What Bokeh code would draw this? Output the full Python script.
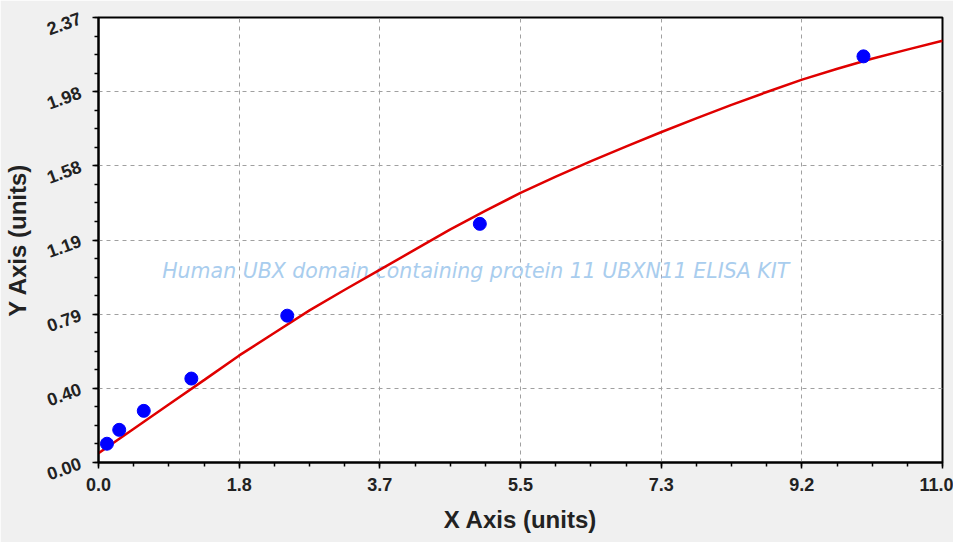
from bokeh.plotting import figure
from bokeh.models import FixedTicker
from bokeh.core.properties import value
from bokeh.embed import file_html
from bokeh.resources import INLINE

# ---- data ----
x_tick_labels = ["0.0", "1.8", "3.7", "5.5", "7.3", "9.2", "11.0"]
y_tick_labels = ["0.00", "0.40", "0.79", "1.19", "1.58", "1.98", "2.37"]
x_max = 11.0
y_max = 2.37

std_x = [0.11, 0.27, 0.59, 1.21, 2.46, 4.97, 9.97]
std_y = [0.10, 0.174, 0.275, 0.447, 0.782, 1.271, 2.163]

curve_x = [0.0, 0.46, 0.92, 1.38, 1.83, 2.29, 2.75, 3.21, 3.67, 4.13, 4.58,
           5.04, 5.5, 5.96, 6.42, 6.88, 7.33, 7.79, 8.25, 8.71, 9.17, 9.63,
           10.08, 10.54, 11.0]
curve_y = [0.05, 0.18, 0.31, 0.44, 0.569, 0.69, 0.81, 0.92, 1.027, 1.135, 1.24,
           1.34, 1.436, 1.522, 1.605, 1.684, 1.759, 1.833, 1.905, 1.973, 2.039,
           2.097, 2.15, 2.199, 2.246]

watermark = "Human UBX domain containing protein 11 UBXN11 ELISA KIT"

# ---- figure ----
BG = "#f0f0f0"
p = figure(width=953, height=542, output_backend="svg", toolbar_location=None,
           x_range=(0, x_max), y_range=(0, y_max),
           min_border_left=98, min_border_right=11, min_border_top=17,
           min_border_bottom=80)
p.background_fill_color = "white"
p.border_fill_color = BG
p.outline_line_color = "black"
p.outline_line_width = 2

n = len(x_tick_labels) - 1
x_ticks = [x_max * i / n for i in range(n + 1)]
y_ticks = [y_max * i / n for i in range(n + 1)]
x_minor = [x_max * i / (n * 4) for i in range(n * 4 + 1)]
y_minor = [y_max * i / (n * 4) for i in range(n * 4 + 1)]

p.xaxis.ticker = FixedTicker(ticks=x_ticks, minor_ticks=x_minor)
p.yaxis.ticker = FixedTicker(ticks=y_ticks, minor_ticks=y_minor)
p.xaxis.major_label_overrides = {t: l for t, l in zip(x_ticks, x_tick_labels)}
p.yaxis.major_label_overrides = {t: l for t, l in zip(y_ticks, y_tick_labels)}

for ax in (p.xaxis, p.yaxis):
    ax.axis_line_color = "black"
    ax.axis_line_width = 2
    ax.major_tick_in = 0
    ax.major_tick_out = 6
    ax.minor_tick_in = 0
    ax.minor_tick_out = 4
    ax.major_tick_line_color = "black"
    ax.minor_tick_line_color = "black"
    ax.major_tick_line_width = 1.5
    ax.minor_tick_line_width = 1.5
    ax.major_label_text_font = "Liberation Sans"
    ax.major_label_text_font_style = "bold"
    ax.major_label_text_font_size = "18px"
    ax.major_label_text_color = "#222222"
    ax.axis_label_text_font = "Liberation Sans"
    ax.axis_label_text_font_style = "bold"
    ax.axis_label_text_font_size = "24px"
    ax.axis_label_text_color = "#222222"

p.xaxis.axis_label = "X Axis (units)"
p.yaxis.axis_label = "Y Axis (units)"
p.xaxis.major_label_standoff = 9
p.xaxis.axis_label_standoff = 12
p.yaxis.major_label_standoff = 12
p.yaxis.major_label_orientation = 0.35
p.yaxis.axis_label_standoff = 9

p.grid.grid_line_color = "#a0a0a0"
p.grid.grid_line_dash = "4 4"
p.grid.grid_line_width = 1
p.xgrid.ticker = FixedTicker(ticks=x_ticks)
p.ygrid.ticker = FixedTicker(ticks=y_ticks)

# watermark
p.text(x=[x_max * 0.447], y=[y_max * 0.43], text=[watermark],
       text_font=value("DejaVu Sans"), text_font_style="italic",
       text_font_size="20.5px", text_color="#a9cdee",
       text_align="center", text_baseline="middle")

p.line(curve_x, curve_y, line_color="#e00000", line_width=2.5)
p.scatter(std_x, std_y, size=13, fill_color="#0000ff", line_color="#0000ff")

open("out.html", "w").write(file_html(p, INLINE))
